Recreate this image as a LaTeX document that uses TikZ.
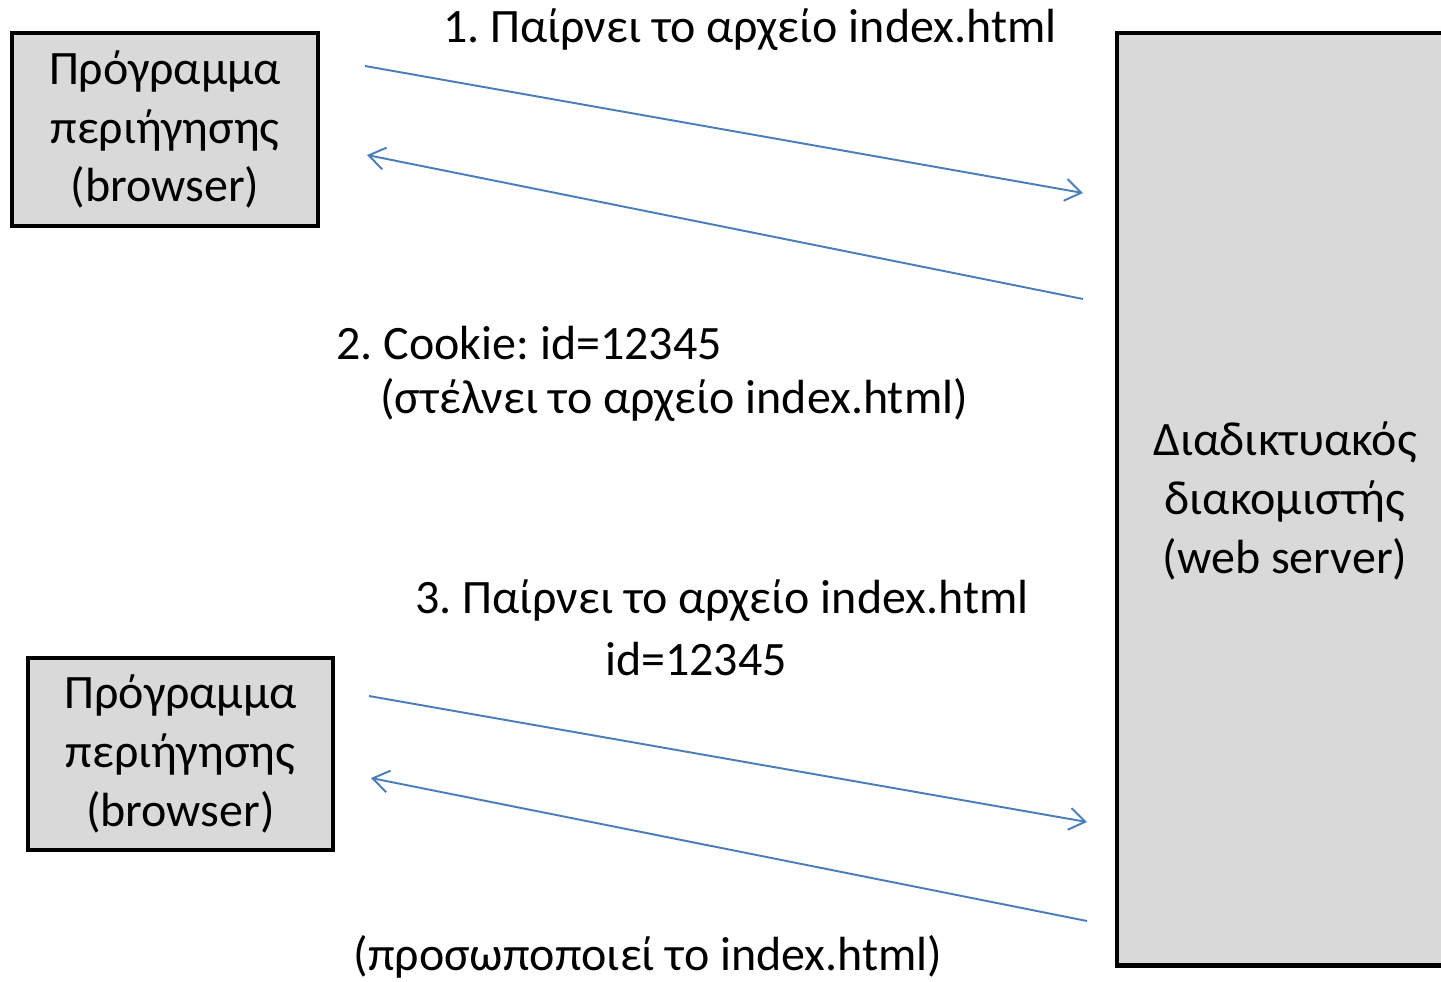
\documentclass[tikz,border=0pt]{standalone}
\usepackage{fontspec}
\setmainfont{Carlito}
\usetikzlibrary{arrows.meta}

\definecolor{boxgray}{HTML}{D9D9D9}
\definecolor{msgblue}{HTML}{4A7EBB}

\tikzset{
  hostbox/.style={draw=black, line width=2.6pt, fill=boxgray, align=center,
    inner sep=0pt},
  msg/.style={msgblue, line width=1.1pt,
    -{Straight Barb[length=0.32cm,width=0.44cm,line width=1.1pt]}},
  msgtext/.style={inner sep=0pt, align=left}
}

\begin{document}
\frenchspacing
\begin{tikzpicture}[x=0.02cm, y=-0.02cm, font=\fontsize{27.3}{33.5}\selectfont]
  \useasboundingbox (0,0) rectangle (1441,981);
  \clip (0,0) rectangle (1441,981);

  % browsers and server
  \node (br1) [hostbox, minimum width=6.12cm, minimum height=3.86cm] at (165,129.5)
    {Πρόγραμμα\\περιήγησης\\(browser)};
  \node (br2) [hostbox, minimum width=6.1cm, minimum height=3.84cm] at (180.5,754)
    {Πρόγραμμα\\περιήγησης\\(browser)};
  % server runs off the right edge, so no right side
  \node (srv) [hostbox, draw=none, anchor=north west, minimum width=9cm, minimum height=18.56cm] at (1117,33) {};
  \draw[line width=2.6pt] (srv.north east) -| (srv.south west) -- (srv.south east);
  \node (srvtext) [align=center] at (1285,501)
    {Διαδικτυακός\\διακομιστής\\(web server)};

  % message end points
  \coordinate (a1s) at (365,66);   \coordinate (a1e) at (1083,193);
  \coordinate (a2s) at (1083,299); \coordinate (a2e) at (367,155);
  \coordinate (a3s) at (369,696);  \coordinate (a3e) at (1087,822);
  \coordinate (a4s) at (1087,921); \coordinate (a4e) at (371,778);

  \draw[msg] (a1s) -- (a1e);
  \draw[msg] (a2s) -- (a2e);
  \draw[msg] (a3s) -- (a3e);
  \draw[msg] (a4s) -- (a4e);

  % labels
  \node (m1) [msgtext] at (750,30) {1. Παίρνει το αρχείο index.html};
  \node (m2) [msgtext, anchor=west] at (336,343) {2. Cookie: id=12345};
  \node (m2b) [msgtext, anchor=west] at (380,400) {(στέλνει το αρχείο index.html)};
  \node (m3) [msgtext] at (722,601) {3. Παίρνει το αρχείο index.html};
  \node (m3b) [msgtext] at (696,659) {id=12345};
  \node (m4) [msgtext] at (648,957) {(προσωποποιεί το index.html)};
\end{tikzpicture}
\end{document}
